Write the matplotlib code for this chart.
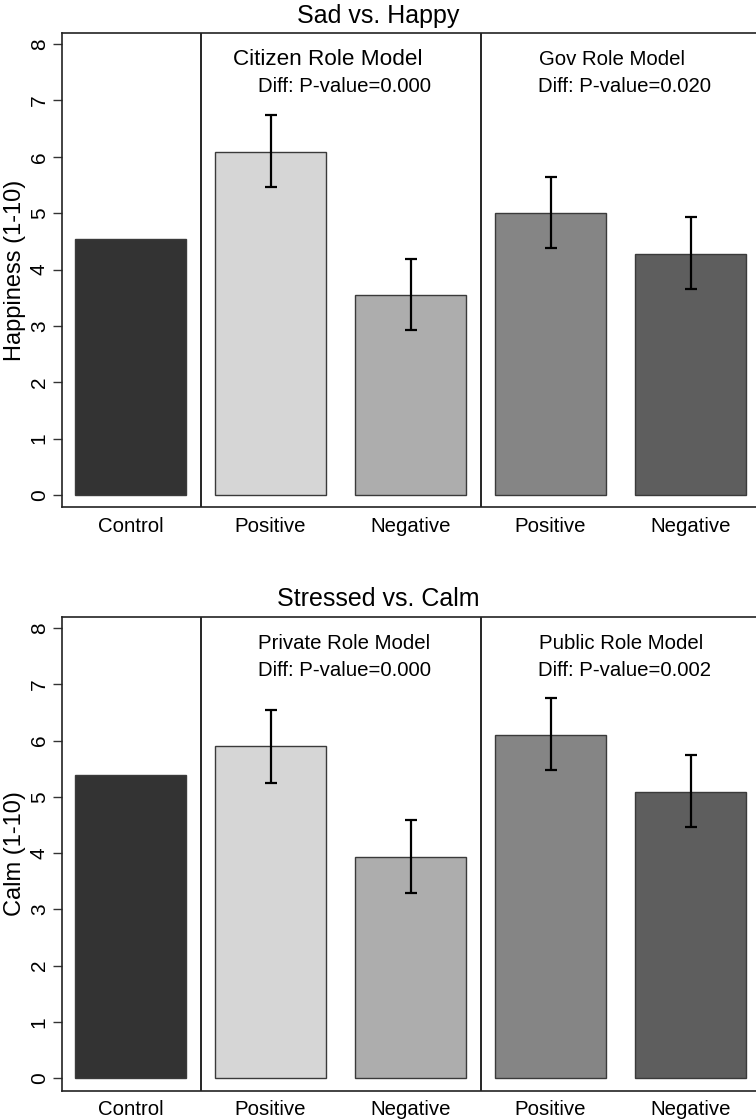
import numpy as np
import matplotlib
matplotlib.use("Agg")
import matplotlib.pyplot as plt

plt.rcParams["font.family"] = ["Liberation Sans", "DejaVu Sans"]

# datos
categorias = ["Control", "Positive", "Negative", "Positive", "Negative"]
colores = ["#333333", "#d6d6d6", "#adadad", "#858585", "#5e5e5e"]

feliz_media = [4.55, 6.09, 3.54, 5.01, 4.28]
feliz_sup = [np.nan, 6.75, 4.19, 5.65, 4.93]
feliz_inf = [np.nan, 5.46, 2.92, 4.39, 3.66]

calma_media = [5.39, 5.90, 3.93, 6.10, 5.09]
calma_sup = [np.nan, 6.55, 4.59, 6.75, 5.75]
calma_inf = [np.nan, 5.25, 3.29, 5.47, 4.47]

paneles = [
    {
        "titulo": "Sad vs. Happy",
        "ylabel": "Happiness (1-10)",
        "media": feliz_media,
        "sup": feliz_sup,
        "inf": feliz_inf,
        "grupo1": "Citizen Role Model",
        "p1": "Diff: P-value=0.000",
        "grupo2": "Gov Role Model",
        "p2": "Diff: P-value=0.020",
        "x_grupo1": 0.73,
        "fs_grupo1": 16.2,
    },
    {
        "titulo": "Stressed vs. Calm",
        "ylabel": "Calm (1-10)",
        "media": calma_media,
        "sup": calma_sup,
        "inf": calma_inf,
        "grupo1": "Private Role Model",
        "p1": "Diff: P-value=0.000",
        "grupo2": "Public Role Model",
        "p2": "Diff: P-value=0.002",
        "x_grupo1": 0.91,
        "fs_grupo1": 14.7,
    },
]

fig = plt.figure(figsize=(7.56, 11.2), dpi=100)
posiciones = [[0.082, 0.547, 0.924, 0.4232], [0.082, 0.0262, 0.924, 0.4227]]
titulos_y = [0.986, 0.465]

x = np.arange(len(categorias))

for panel, pos, ty in zip(paneles, posiciones, titulos_y):
    ax = fig.add_axes(pos)
    media = np.array(panel["media"])
    sup = np.array(panel["sup"])
    inf = np.array(panel["inf"])

    ax.bar(x, media, width=0.79, color=colores, edgecolor="#3a3a3a",
           linewidth=1.0, zorder=2)

    m = ~np.isnan(sup)
    err = np.vstack([media[m] - inf[m], sup[m] - media[m]])
    ax.errorbar(x[m], media[m], yerr=err, fmt="none", ecolor="black",
                elinewidth=1.6, capsize=4, capthick=1.6, zorder=3)

    ax.axvline(0.5, color="black", linewidth=1.2)
    ax.axvline(2.5, color="black", linewidth=1.2)

    ax.set_xlim(-0.49, 4.5)
    ax.set_ylim(-0.22, 8.19)
    ax.set_yticks(range(0, 9))
    ax.set_xticks(x)
    ax.set_xticklabels(categorias, fontsize=14.7)
    ax.tick_params(axis="x", length=0, pad=7)
    ax.tick_params(axis="y", length=6.5, width=1.0, pad=3, labelsize=15,
                   labelrotation=90, color="#333333")
    for lab in ax.get_yticklabels():
        lab.set_va("center")
    ax.set_ylabel(panel["ylabel"], fontsize=17, labelpad=3)

    for lado in ["left", "bottom", "top"]:
        ax.spines[lado].set_linewidth(1.2)
        ax.spines[lado].set_color("#222222")
    ax.spines["right"].set_visible(False)

    ax.text(panel["x_grupo1"], 7.73, panel["grupo1"],
            fontsize=panel["fs_grupo1"], va="center")
    ax.text(0.91, 7.25, panel["p1"], fontsize=14.7, va="center")
    ax.text(2.92, 7.73, panel["grupo2"], fontsize=14.7, va="center")
    ax.text(2.91, 7.25, panel["p2"], fontsize=14.7, va="center")

    fig.text(0.5, ty, panel["titulo"], fontsize=18, ha="center", va="center")

fig.savefig("out.png", dpi=100)
